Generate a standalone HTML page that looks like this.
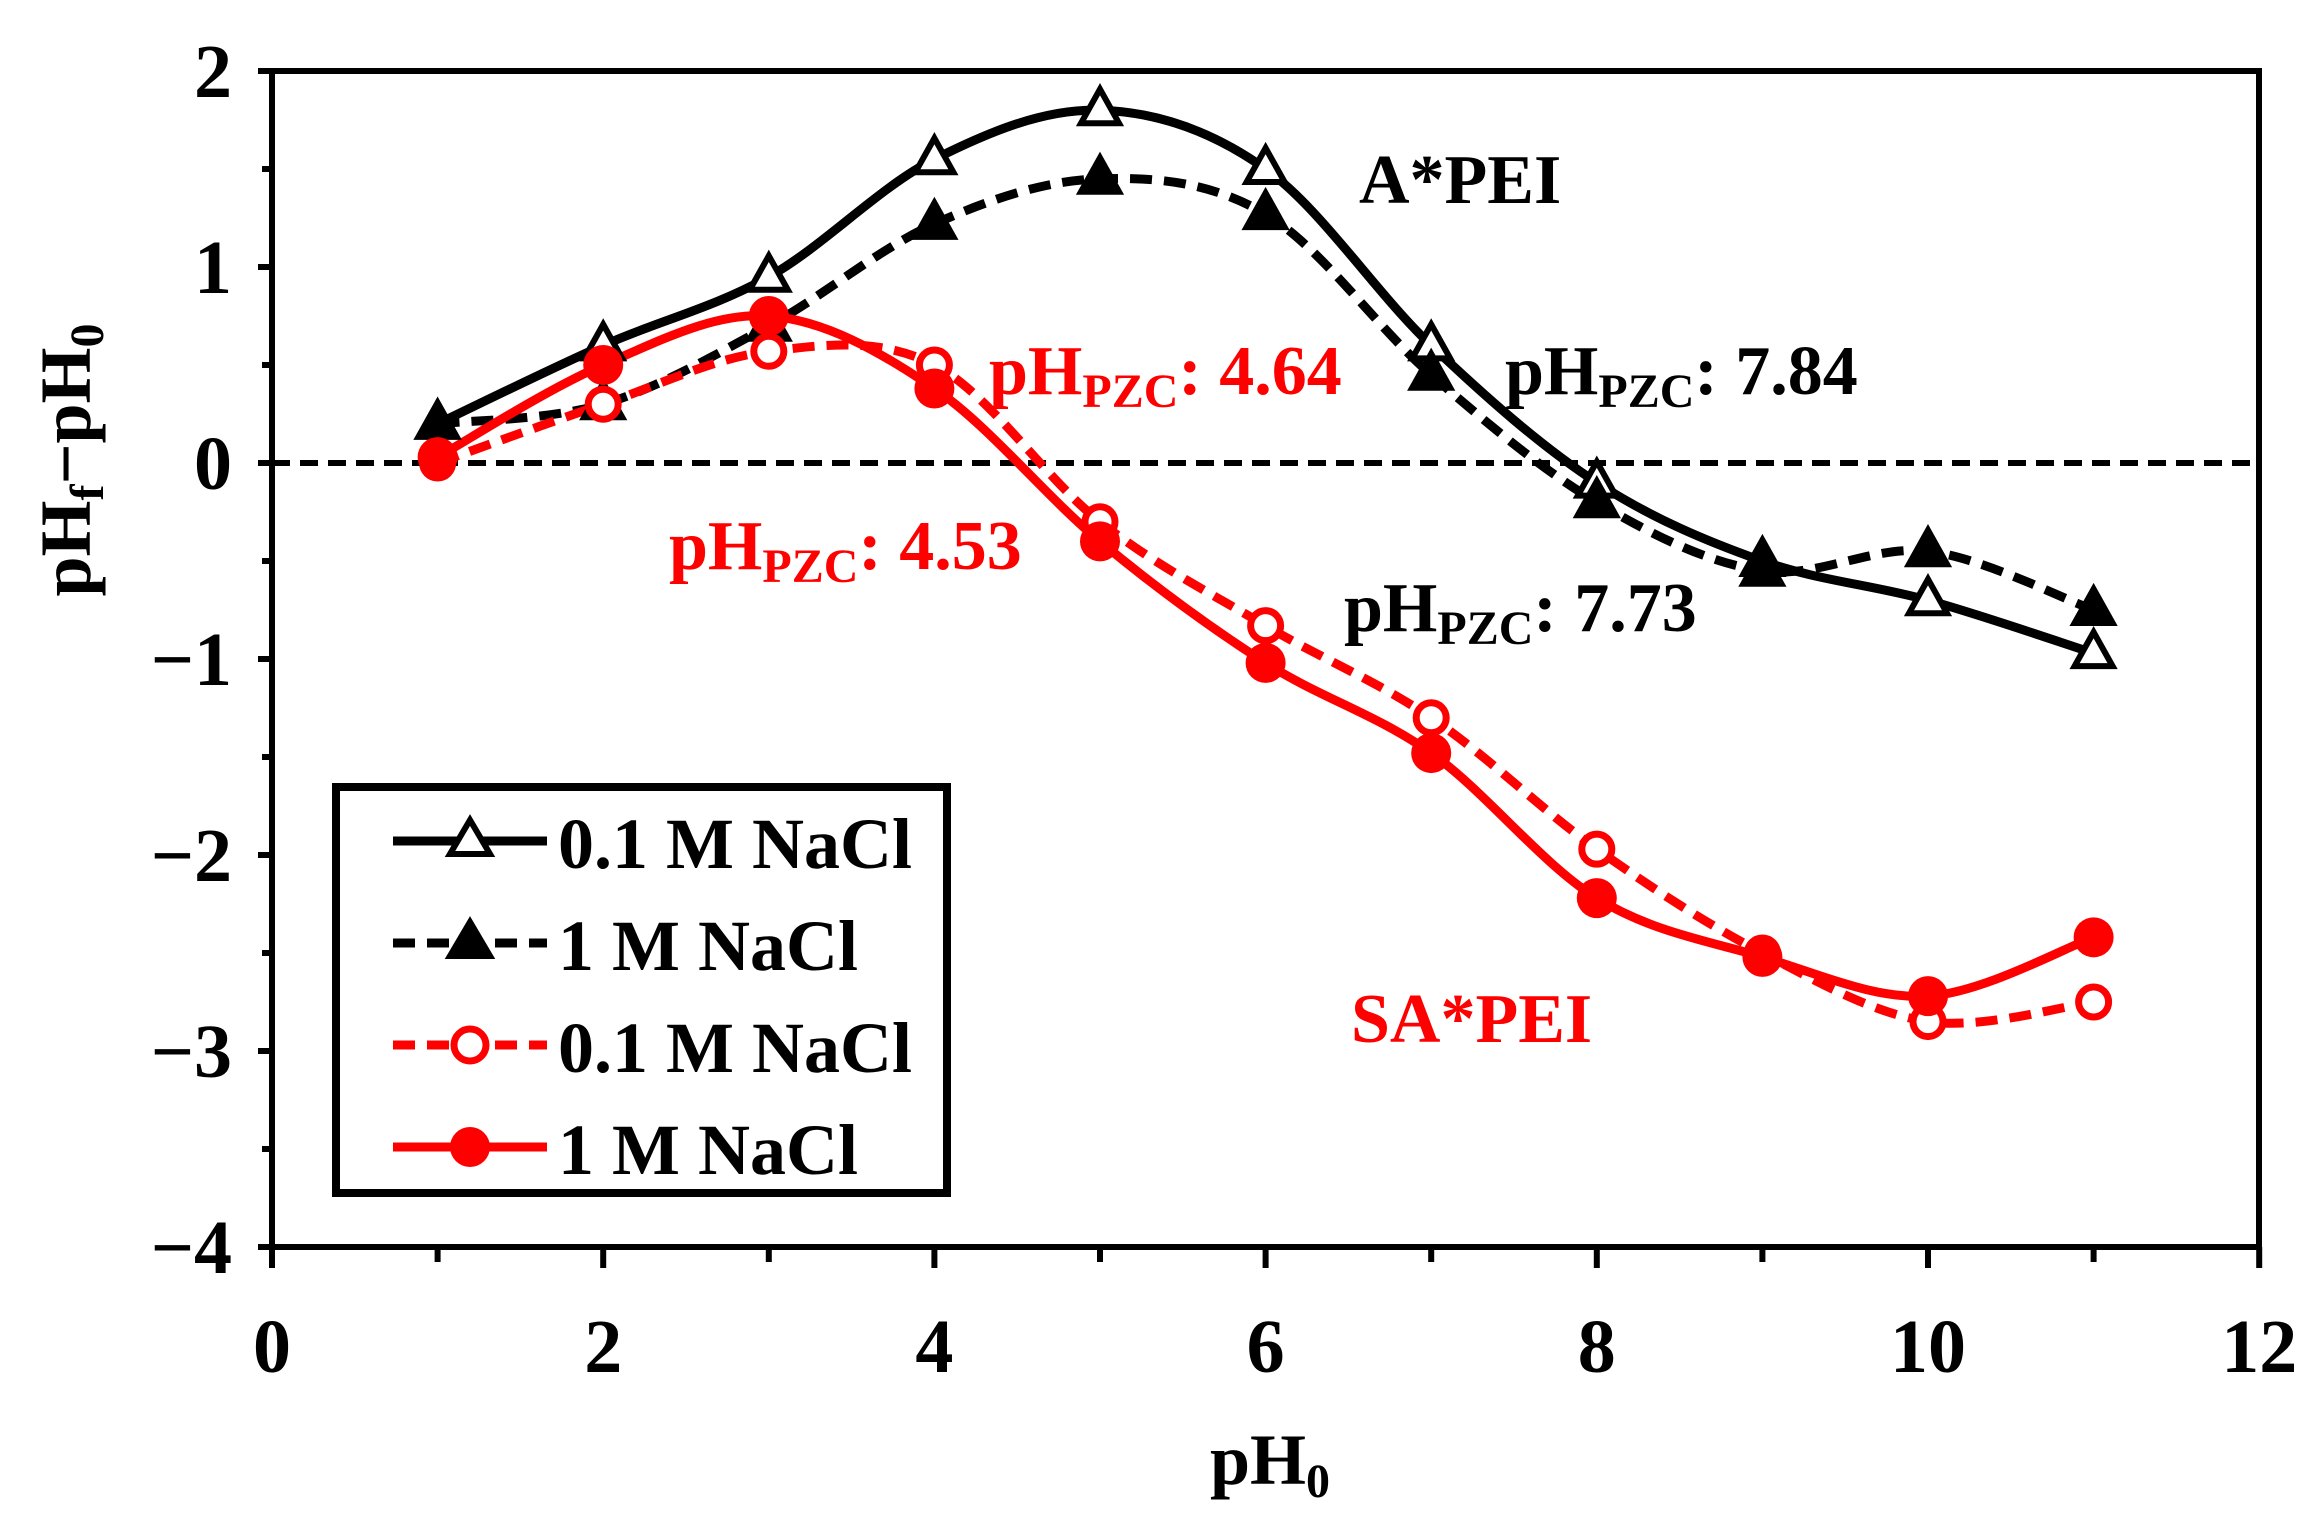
<!DOCTYPE html>
<html><head><meta charset="utf-8"><style>
html,body{margin:0;padding:0;background:#fff}
svg{display:block}
text{font-family:"Liberation Serif",serif;font-weight:bold}
</style></head><body>
<svg id="s" width="2321" height="1532" viewBox="0 0 2321 1532" xmlns="http://www.w3.org/2000/svg">
<rect width="2321" height="1532" fill="#fff"/>
<g id="axes"></g>
<g id="series"></g>
<text x="1359" y="203" font-size="70">A*PEI</text>
<text x="1351" y="1042" font-size="70" fill="#f00">SA*PEI</text>
<text x="1505" y="394" font-size="70">pH<tspan font-size="48" dy="13">PZC</tspan><tspan dy="-13">: 7.84</tspan></text>
<text x="989" y="394" font-size="70" fill="#f00">pH<tspan font-size="48" dy="13">PZC</tspan><tspan dy="-13">: 4.64</tspan></text>
<text x="669" y="569" font-size="70" fill="#f00">pH<tspan font-size="48" dy="13">PZC</tspan><tspan dy="-13">: 4.53</tspan></text>
<text x="1344" y="631" font-size="70">pH<tspan font-size="48" dy="13">PZC</tspan><tspan dy="-13">: 7.73</tspan></text>
<text x="1270" y="1484" font-size="72" text-anchor="middle">pH<tspan font-size="48" dy="13">0</tspan></text>
<text transform="translate(90,460) rotate(-90)" font-size="72" text-anchor="middle">pH<tspan font-size="48" dy="13">f</tspan><tspan dy="-13">−pH</tspan><tspan font-size="48" dy="13">0</tspan></text>
<g id="legend">
<rect x="336" y="787" width="611" height="406" fill="#fff" stroke="#000" stroke-width="8"/>
<line x1="393" y1="841" x2="547" y2="841" stroke="#000" stroke-width="9"/>
<polygon points="470,820 490,854 450,854" fill="#fff" stroke="#000" stroke-width="6"/>
<text x="558" y="868" font-size="72">0.1 M NaCl</text>
<line x1="393" y1="943" x2="547" y2="943" stroke="#000" stroke-width="9" stroke-dasharray="22,12"/>
<polygon points="470,922 490,956 450,956" fill="#000" stroke="#000" stroke-width="6"/>
<text x="558" y="970" font-size="72">1 M NaCl</text>
<line x1="393" y1="1045" x2="547" y2="1045" stroke="#f00" stroke-width="9" stroke-dasharray="22,12"/>
<circle cx="470" cy="1045" r="16" fill="#fff" stroke="#f00" stroke-width="7"/>
<text x="558" y="1072" font-size="72">0.1 M NaCl</text>
<line x1="393" y1="1147" x2="547" y2="1147" stroke="#f00" stroke-width="9"/>
<circle cx="470" cy="1147" r="20" fill="#f00"/>
<text x="558" y="1174" font-size="72">1 M NaCl</text>
</g>
</svg>
<script>
const NS="http://www.w3.org/2000/svg";
const X=v=>272+165.6*v, Y=v=>463-196*v;
function el(p,tag,a,t){const e=document.createElementNS(NS,tag);for(const k in a)e.setAttribute(k,a[k]);if(t!==undefined)e.textContent=t;p.appendChild(e);return e;}
const ax=document.getElementById('axes');
el(ax,'rect',{x:272,y:71,width:1987,height:1176,fill:'none',stroke:'#000','stroke-width':6});
el(ax,'line',{x1:272,y1:463,x2:2259,y2:463,stroke:'#000','stroke-width':6,'stroke-dasharray':'18,10'});
for(let v=-4;v<=2;v+=0.5){const y=Y(v);const major=Number.isInteger(v);
 el(ax,'line',{x1:major?258:262,y1:y,x2:272,y2:y,stroke:'#000','stroke-width':6});
 if(major) el(ax,'text',{x:232,y:y+26,'font-size':76,'text-anchor':'end'},v<0?'−'+(-v):String(v));}
for(let v=0;v<=12;v++){const x=X(v);
 el(ax,'line',{x1:x,y1:1247,x2:x,y2:v%2?1262:1268,stroke:'#000','stroke-width':6});
 if(v%2==0) el(ax,'text',{x:x,y:1372,'font-size':76,'text-anchor':'middle'},String(v));}
const S=[
 {d:[0.2,0.6,0.95,1.55,1.8,1.5,0.6,-0.1,-0.5,-0.7,-0.97],c:'#000',dash:null,m:'tri',fill:'#fff'},
 {d:[0.2,0.3,0.7,1.22,1.45,1.27,0.45,-0.2,-0.55,-0.45,-0.75],c:'#000',dash:'22,12',m:'tri',fill:'#000'},
 {d:[0,0.3,0.57,0.5,-0.3,-0.83,-1.3,-1.97,-2.5,-2.85,-2.75],c:'#f00',dash:'22,12',m:'circ',fill:'#fff'},
 {d:[0.03,0.5,0.75,0.38,-0.4,-1.02,-1.48,-2.22,-2.52,-2.72,-2.42],c:'#f00',dash:null,m:'circ',fill:'#f00'}
];
const sg=document.getElementById('series');
S.forEach(s=>{
 const P=s.d.map((v,i)=>[X(i+1),Y(v)]);
 let d='M'+P[0][0]+','+P[0][1];
 for(let i=0;i<P.length-1;i++){const p0=P[Math.max(i-1,0)],p1=P[i],p2=P[i+1],p3=P[Math.min(i+2,P.length-1)];
  const c1=[p1[0]+(p2[0]-p0[0])/6,p1[1]+(p2[1]-p0[1])/6],c2=[p2[0]-(p3[0]-p1[0])/6,p2[1]-(p3[1]-p1[1])/6];
  d+=` C${c1[0]},${c1[1]} ${c2[0]},${c2[1]} ${p2[0]},${p2[1]}`;}
 const a={d:d,fill:'none',stroke:s.c,'stroke-width':9};if(s.dash)a['stroke-dasharray']=s.dash;
 el(sg,'path',a);
 s.P=P;
});
S.forEach(s=>{s.P.forEach(p=>{
 if(s.m=='tri') el(sg,'polygon',{points:`${p[0]},${p[1]-21} ${p[0]+19},${p[1]+13} ${p[0]-19},${p[1]+13}`,fill:s.fill,stroke:'#000','stroke-width':6});
 else if(s.fill=='#fff') el(sg,'circle',{cx:p[0],cy:p[1],r:15,fill:'#fff',stroke:s.c,'stroke-width':7});
 else el(sg,'circle',{cx:p[0],cy:p[1],r:20,fill:s.c});
});});
</script>
</body></html>
